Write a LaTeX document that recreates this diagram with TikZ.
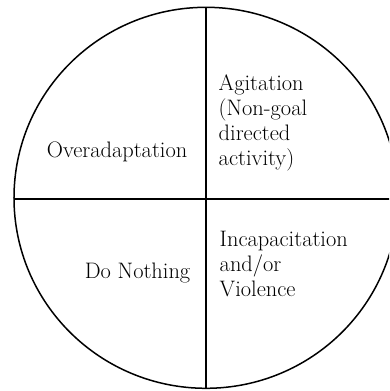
\documentclass[tikz,border=0pt]{standalone}
\usetikzlibrary{positioning}

\begin{document}
\begin{tikzpicture}[x=1pt, y=1pt, line width=1.5pt,
  every node/.style={inner sep=0pt, font=\fontsize{22.4}{25}\selectfont},
  quadLabel/.style={align=left}]
  \useasboundingbox (-206,-192) rectangle (183,199);
  \clip (-206,-192) rectangle (183,199);
  \draw (0,1.2) ellipse[x radius=192, y radius=190.5];
  \coordinate (circTop) at (0,191.7);
  \coordinate (circBottom) at (0,-189.3);
  \coordinate (circLeft) at (-192,0);
  \coordinate (circRight) at (192,0);
  \draw (circTop) -- (circBottom);
  \draw (circLeft) -- (circRight);
  % multi-line labels: base is the last line
  \node[quadLabel, anchor=base west] (agitation) at (12,33.5) {Agitation\\(Non-goal\\directed\\activity)};
  \node[anchor=base east] (overadaptation) at (-18,41.7) {Overadaptation};
  \node[anchor=base east] (doNothing) at (-15,-79) {Do Nothing};
  \node[quadLabel, anchor=base west] (incapacitation) at (13,-97) {Incapacitation\\and/or\\Violence};
\end{tikzpicture}
\end{document}
